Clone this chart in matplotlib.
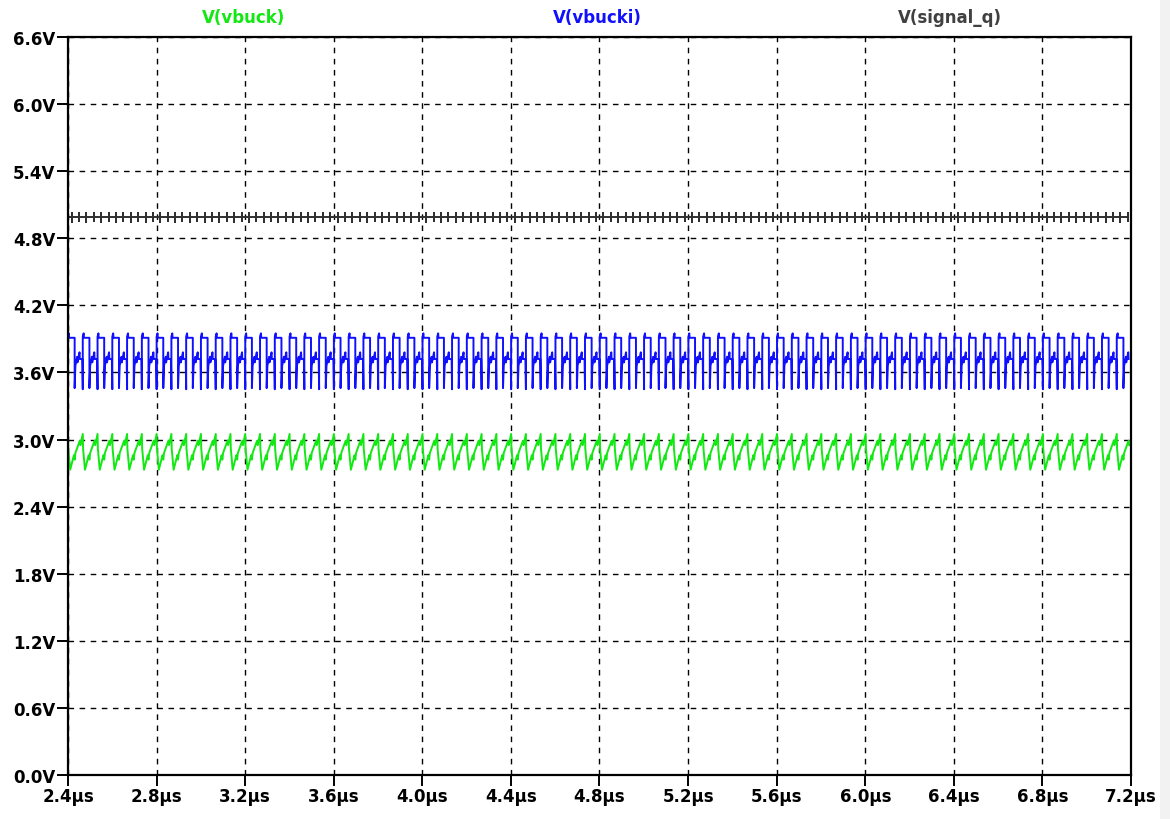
#!/usr/bin/env python3
"""LTspice-style transient view of a buck converter: vbuck, vbucki, signal_q."""

import numpy as np
import matplotlib
matplotlib.use("Agg")
import matplotlib.pyplot as plt
from matplotlib.patches import Rectangle

# time window (us) and switching period (us)
T_START, T_STOP = 2.4, 7.2
PERIOD = 0.0667

# one switching cycle of each trace, as (phase, volts)
vbuck_phase = [0.00, 0.02, 0.15, 0.40, 0.45, 0.50, 0.80, 0.84, 1.00]
vbuck_v     = [3.05, 2.92, 2.73, 2.86, 2.82, 2.88, 2.99, 2.95, 3.05]

vbucki_phase = [0.00, 0.00, 0.06, 0.08, 0.45, 0.45, 0.50, 0.62, 0.64, 0.78, 0.80, 0.97, 1.00]
vbucki_v     = [3.45, 3.92, 3.95, 3.91, 3.91, 3.46, 3.66, 3.74, 3.69, 3.78, 3.72, 3.72, 3.45]

sigq_phase = [0.00, 0.25, 0.25, 0.25, 0.25, 0.75, 0.75, 0.75, 0.75, 1.00]
sigq_v     = [4.99, 4.99, 5.025, 4.945, 4.99, 4.99, 5.025, 4.955, 4.99, 4.99]

y_ticks = [0.0, 0.6, 1.2, 1.8, 2.4, 3.0, 3.6, 4.2, 4.8, 5.4, 6.0, 6.6]
x_ticks = [2.4, 2.8, 3.2, 3.6, 4.0, 4.4, 4.8, 5.2, 5.6, 6.0, 6.4, 6.8, 7.2]


def repeat_cycle(phase, volts):
    n = int(np.ceil((T_STOP - T_START) / PERIOD)) + 1
    ph = np.asarray(phase)
    t = ((np.arange(n)[:, None] + ph[None, :]) * PERIOD + T_START).ravel()
    v = np.tile(np.asarray(volts), n)
    keep = t <= T_STOP
    return t[keep], v[keep]


fig = plt.figure(figsize=(11.7, 8.2), dpi=100)
fig.patch.set_facecolor("white")
fig.patches.append(Rectangle((1160 / 1170, 0), 10 / 1170, 1, transform=fig.transFigure,
                             facecolor="#f2f2f2", edgecolor="none"))

ax = fig.add_axes([68 / 1170, 44 / 820, 1063 / 1170, 738 / 820])

for phase, volts, color in [(sigq_phase, sigq_v, "#303030"),
                            (vbucki_phase, vbucki_v, "#1010ff"),
                            (vbuck_phase, vbuck_v, "#12e812")]:
    t, v = repeat_cycle(phase, volts)
    ax.plot(t, v, color=color, linewidth=1.4)

ax.set_xlim(T_START, T_STOP)
ax.set_ylim(0.0, 6.6)
ax.set_xticks(x_ticks)
ax.set_yticks(y_ticks)
ax.set_xticklabels([f"{x:.1f}\u00b5s" for x in x_ticks])
ax.set_yticklabels([f"{y:.1f}V" for y in y_ticks])
ax.grid(True, color="black", linestyle=(0, (4, 4)), linewidth=1.0)
ax.tick_params(axis="both", direction="out", length=8, width=1.4, colors="black",
               labelsize=12, pad=1)
for lab in ax.get_xticklabels() + ax.get_yticklabels():
    lab.set_fontweight("bold")
for sp in ax.spines.values():
    sp.set_edgecolor("black")
    sp.set_linewidth(1.6)

fig.text(244 / 1170, 1 - 18 / 820, "V(vbuck)", color="#12e812", fontsize=12,
         fontweight="bold", ha="center", va="center")
fig.text(597 / 1170, 1 - 18 / 820, "V(vbucki)", color="#1010ff", fontsize=12,
         fontweight="bold", ha="center", va="center")
fig.text(950 / 1170, 1 - 18 / 820, "V(signal_q)", color="#404040", fontsize=12,
         fontweight="bold", ha="center", va="center")

fig.savefig("out.png", dpi=100, facecolor=fig.get_facecolor())
